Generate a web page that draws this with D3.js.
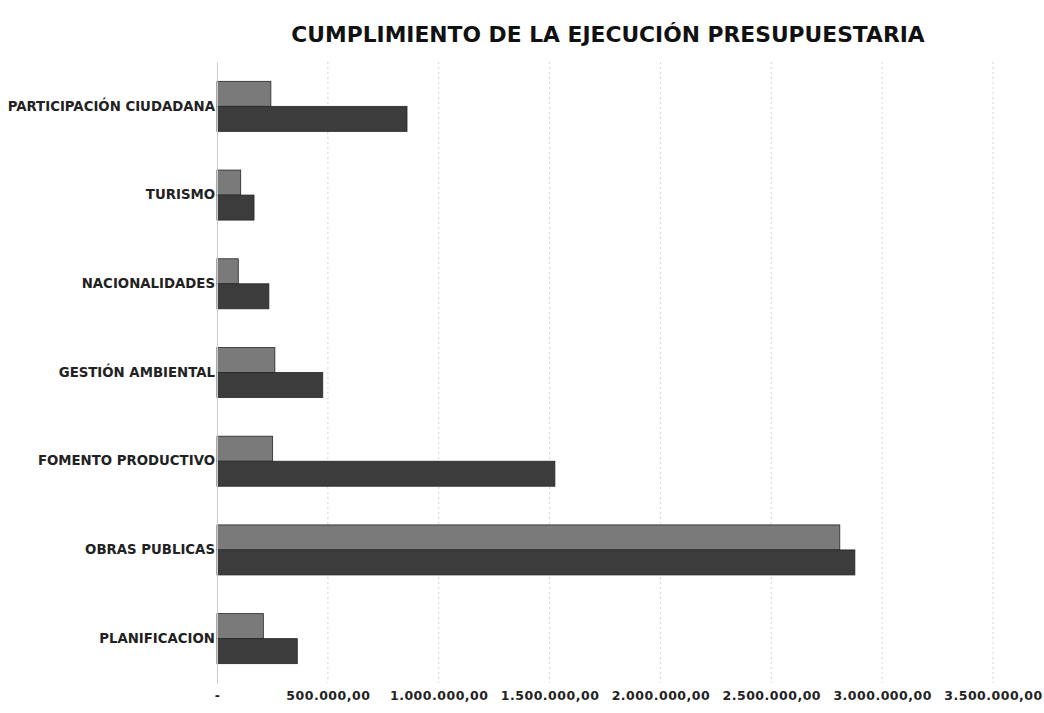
<!DOCTYPE html>
<html>
<head>
<meta charset="utf-8">
<script src="https://cdn.jsdelivr.net/npm/d3@7"></script>
<style>
  body { margin: 0; background: #fff; }
  text { font-family: "DejaVu Sans", Verdana, sans-serif; }
</style>
</head>
<body>
<script>
// categorias, de arriba hacia abajo
const categories = ["PARTICIPACIÓN CIUDADANA", "TURISMO", "NACIONALIDADES",
  "GESTIÓN AMBIENTAL", "FOMENTO PRODUCTIVO", "OBRAS PUBLICAS", "PLANIFICACION"]
const series = ["Ejecutado", "Codificado"]
const ejecutado = [243000, 107000, 96000, 261000, 251000, 2809000, 209000]
const codificado = [857000, 167000, 234000, 477000, 1524000, 2877000, 362000]
const tickValues = [0, 500000, 1000000, 1500000, 2000000, 2500000, 3000000, 3500000]

const width = 1044, height = 713

const svg = d3.select('body').append('svg')
    .attr('width', width)
    .attr('height', height)

const es = d3.formatLocale({decimal: ',', thousands: '.', grouping: [3], currency: ['$', '']})
const fmt = d => d === 0 ? '-' : es.format(',.2f')(d)

//x
const x = d3.scaleLinear()
    .domain([0, 3500000])
    .range([217, 993])

//y
const y = d3.scaleBand()
    .domain(categories)
    .range([62, 683])
    .paddingInner(0.436)
    .paddingOuter(0.218)

const ySub = d3.scaleBand()
    .domain(series)
    .range([0, y.bandwidth()])

const color = d3.scaleOrdinal()
    .domain(series)
    .range(['#7a7a7a', '#3c3c3c'])

// grid
svg.append('g')
    .selectAll('line')
    .data(tickValues.slice(1)).enter()
    .append('line')
    .attr('x1', d => x(d)).attr('x2', d => x(d))
    .attr('y1', 62).attr('y2', 683)
    .attr('stroke', '#d4d4d4')
    .attr('stroke-dasharray', '2,3')

const rows = categories.map((c, i) => ({cat: c, values: [
    {key: series[0], value: ejecutado[i]},
    {key: series[1], value: codificado[i]}
]}))

const groups = svg.append('g')
    .selectAll('g')
    .data(rows).enter()
    .append('g')
    .attr('transform', d => `translate(0,${y(d.cat)})`)

groups.selectAll('rect')
    .data(d => d.values).enter()
    .append('rect')
    .attr('x', x(0))
    .attr('y', d => ySub(d.key))
    .attr('width', d => x(d.value) - x(0))
    .attr('height', ySub.bandwidth())
    .attr('fill', d => color(d.key))
    .attr('stroke', '#262626')
    .attr('stroke-width', 0.8)

// eje de categorias
const yAxis = svg.append('g')
    .attr('transform', `translate(${x(0)},0)`)
    .call(d3.axisLeft(y).tickSize(0).tickPadding(2))
yAxis.select('.domain').attr('stroke', '#c8c8c8')
yAxis.selectAll('text')
    .attr('font-size', 13.3)
    .attr('font-weight', 'bold')
    .attr('fill', '#222')
    .style('font-family', '"DejaVu Sans", Verdana, sans-serif')

// eje de valores
const xAxis = svg.append('g')
    .attr('transform', 'translate(0,683)')
    .call(d3.axisBottom(x).tickValues(tickValues).tickFormat(fmt).tickSize(0).tickPadding(8))
xAxis.select('.domain').remove()
xAxis.selectAll('text')
    .attr('font-size', 12.5)
    .attr('font-weight', 'bold')
    .attr('letter-spacing', 0.5)
    .attr('fill', '#222')
    .style('font-family', '"DejaVu Sans", Verdana, sans-serif')

// titulo
svg.append('text')
    .attr('x', 608)
    .attr('y', 42)
    .attr('text-anchor', 'middle')
    .attr('font-size', 21.8)
    .attr('font-weight', 'bold')
    .attr('fill', '#111')
    .text('CUMPLIMIENTO DE LA EJECUCIÓN PRESUPUESTARIA')
</script>
</body>
</html>
